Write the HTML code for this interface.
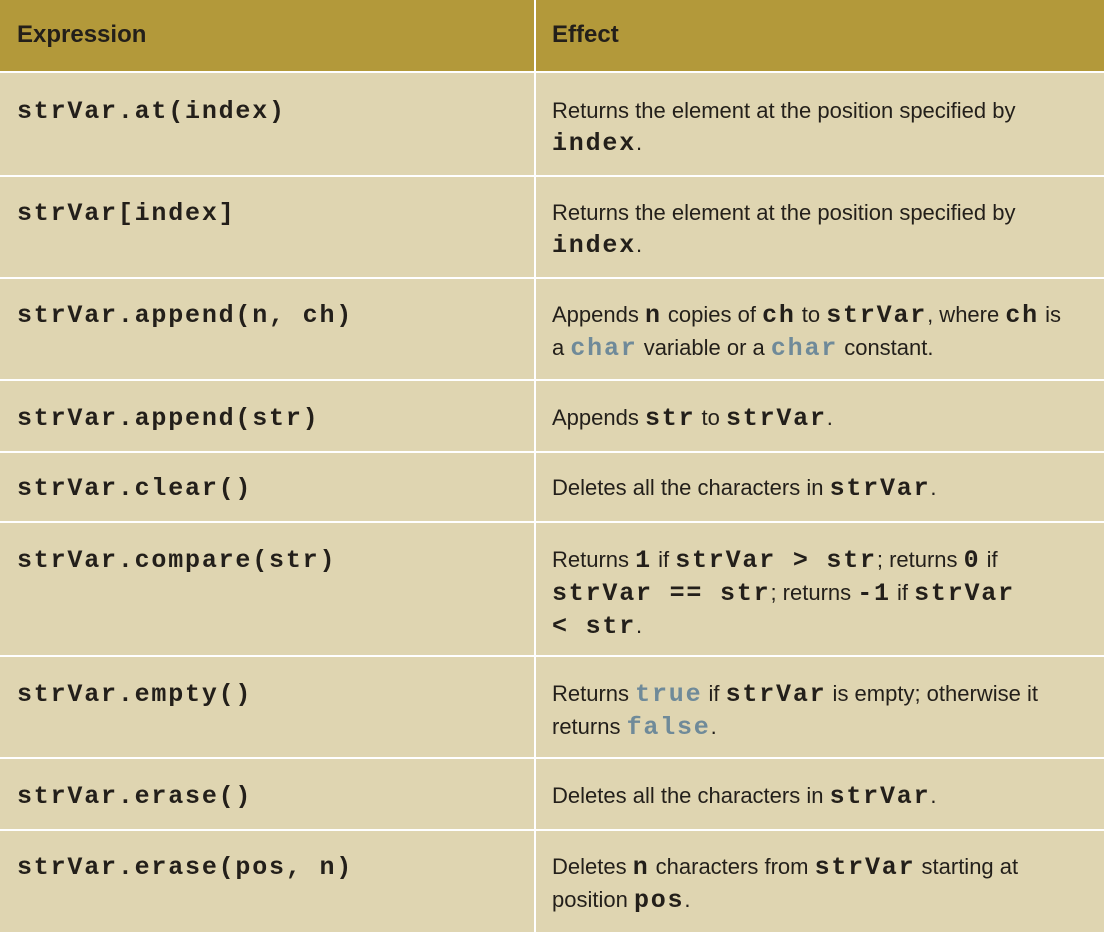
<!DOCTYPE html>
<html><head><meta charset="utf-8"><style>
body{margin:0;width:1104px;height:932px;background:#dfd5b1;position:relative;overflow:hidden;color:#231f1a}
.hd{position:absolute;left:0;top:0;width:1104px;height:71px;background:#b3993a}
.h{position:absolute;top:21px;font:bold 24px "Liberation Sans",sans-serif;}
.hl{position:absolute;left:0;width:1104px;height:2px;background:#fff}
.vl{position:absolute;left:534px;top:0;width:2px;height:932px;background:#fff}
.c{position:absolute;left:17px;font:bold 25px/32px "Liberation Mono",monospace;letter-spacing:1.8px;white-space:pre}
.e{position:absolute;left:552px;width:550px;white-space:nowrap;font:22px/32px "Liberation Sans",sans-serif}
.e b{font:bold 25px/32px "Liberation Mono",monospace;letter-spacing:1.8px}
.e b.k{color:#6f8a99}
</style></head><body>
<div class="hd"></div>
<div class="h" style="left:17px">Expression</div>
<div class="h" style="left:552px">Effect</div>
<div class="vl"></div>
<div class="hl" style="top:71px"></div>
<div class="hl" style="top:175px"></div>
<div class="hl" style="top:277px"></div>
<div class="hl" style="top:379px"></div>
<div class="hl" style="top:451px"></div>
<div class="hl" style="top:521px"></div>
<div class="hl" style="top:655px"></div>
<div class="hl" style="top:757px"></div>
<div class="hl" style="top:829px"></div>

<div class="c" style="top:96px">strVar.at(index)</div>
<div class="e" style="top:95px">Returns the element at the position specified by<br><b>index</b>.</div>

<div class="c" style="top:198px">strVar[index]</div>
<div class="e" style="top:197px">Returns the element at the position specified by<br><b>index</b>.</div>

<div class="c" style="top:300px">strVar.append(n, ch)</div>
<div class="e" style="top:299px">Appends <b>n</b> copies of <b>ch</b> to <b>strVar</b>, where <b>ch</b> is<br>a <b class="k">char</b> variable or a <b class="k">char</b> constant.</div>

<div class="c" style="top:403px">strVar.append(str)</div>
<div class="e" style="top:402px">Appends <b>str</b> to <b>strVar</b>.</div>

<div class="c" style="top:473px">strVar.clear()</div>
<div class="e" style="top:472px">Deletes all the characters in <b>strVar</b>.</div>

<div class="c" style="top:545px">strVar.compare(str)</div>
<div class="e" style="top:544px">Returns <b>1</b> if <b>strVar &gt; str</b>; returns <b>0</b> if<br><b>strVar == str</b>; returns <b>-1</b> if <b>strVar</b><br><b>&lt; str</b>.</div>

<div class="c" style="top:679px">strVar.empty()</div>
<div class="e" style="top:678px">Returns <b class="k">true</b> if <b>strVar</b> is empty; otherwise it<br>returns <b class="k">false</b>.</div>

<div class="c" style="top:781px">strVar.erase()</div>
<div class="e" style="top:780px">Deletes all the characters in <b>strVar</b>.</div>

<div class="c" style="top:852px">strVar.erase(pos, n)</div>
<div class="e" style="top:851px">Deletes <b>n</b> characters from <b>strVar</b> starting at<br>position <b>pos</b>.</div>
</body></html>
